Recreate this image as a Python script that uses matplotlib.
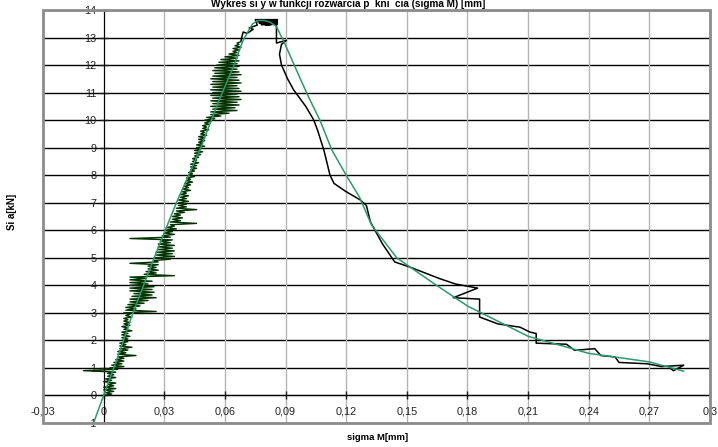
import matplotlib.pyplot as plt
from matplotlib.patches import Rectangle

plt.rcParams['font.family'] = ['Liberation Sans', 'DejaVu Sans']

# rising part of the measurement (dark green): at each force level the
# signal swings between a left and a right opening value
rise_y = [0.0, 0.1, 0.2, 0.3, 0.4, 0.5, 0.6, 0.7, 0.8, 0.9,
          1.0, 1.1, 1.2, 1.3, 1.4, 1.5, 1.6, 1.7, 1.8, 1.9,
          2.0, 2.1, 2.2, 2.3, 2.4, 2.5, 2.6, 2.7, 2.8, 2.9,
          3.0, 3.1, 3.2, 3.3, 3.4, 3.5, 3.6, 3.7, 3.8, 3.9,
          4.0, 4.1, 4.2, 4.3, 4.4, 4.5, 4.6, 4.7, 4.8, 4.9,
          5.0, 5.1, 5.2, 5.3, 5.4, 5.5, 5.6, 5.7, 5.8, 5.9,
          6.0, 6.1, 6.2, 6.3, 6.4, 6.5, 6.6, 6.7, 6.8, 6.9,
          7.0, 7.1, 7.2, 7.3, 7.4, 7.5, 7.6, 7.7, 7.8, 7.9,
          8.0, 8.1, 8.2, 8.3, 8.4, 8.5, 8.6, 8.7, 8.8, 8.9,
          9.0, 9.1, 9.2, 9.3, 9.4, 9.5, 9.6, 9.7, 9.8, 9.9,
          10.0, 10.1, 10.2, 10.3, 10.4, 10.5, 10.6, 10.7, 10.8, 10.9,
          11.0, 11.1, 11.2, 11.3, 11.4, 11.5, 11.6, 11.7, 11.8, 11.9,
          12.0, 12.1, 12.2, 12.3, 12.4, 12.5, 12.6, 12.7, 12.8]
rise_lo = [0.000, 0.001, 0.000, 0.000, 0.002, 0.000, 0.001, 0.002, 0.002, -0.010,
           0.003, 0.004, 0.005, 0.006, 0.007, 0.007, 0.007, 0.008, 0.008, 0.008,
           0.009, 0.009, 0.009, 0.009, 0.010, 0.009, 0.010, 0.010, 0.010, 0.011,
           0.010, 0.011, 0.011, 0.012, 0.013, 0.013, 0.014, 0.015, 0.013, 0.013,
           0.013, 0.013, 0.013, 0.013, 0.020, 0.021, 0.022, 0.022, 0.013, 0.025,
           0.025, 0.026, 0.026, 0.027, 0.027, 0.027, 0.028, 0.013, 0.029, 0.030,
           0.030, 0.031, 0.033, 0.033, 0.034, 0.034, 0.035, 0.036, 0.036, 0.037,
           0.037, 0.037, 0.038, 0.038, 0.039, 0.039, 0.040, 0.040, 0.041, 0.041,
           0.042, 0.042, 0.043, 0.043, 0.043, 0.044, 0.044, 0.045, 0.045, 0.045,
           0.046, 0.046, 0.047, 0.047, 0.047, 0.048, 0.048, 0.049, 0.049, 0.050,
           0.050, 0.051, 0.053, 0.053, 0.054, 0.053, 0.054, 0.053, 0.054, 0.053,
           0.054, 0.053, 0.054, 0.053, 0.054, 0.053, 0.054, 0.055, 0.054, 0.055,
           0.056, 0.057, 0.058, 0.060, 0.062, 0.064, 0.064, 0.065, 0.066]
rise_hi = [0.004, 0.005, 0.006, 0.005, 0.006, 0.004, 0.006, 0.005, 0.006, 0.007,
           0.010, 0.009, 0.010, 0.010, 0.016, 0.011, 0.012, 0.014, 0.011, 0.012,
           0.012, 0.013, 0.012, 0.014, 0.012, 0.013, 0.013, 0.012, 0.014, 0.013,
           0.026, 0.016, 0.018, 0.020, 0.022, 0.026, 0.024, 0.025, 0.024, 0.025,
           0.022, 0.024, 0.021, 0.035, 0.026, 0.027, 0.026, 0.027, 0.027, 0.033,
           0.035, 0.034, 0.035, 0.034, 0.035, 0.033, 0.034, 0.033, 0.035, 0.034,
           0.036, 0.035, 0.046, 0.038, 0.039, 0.038, 0.040, 0.046, 0.041, 0.041,
           0.042, 0.041, 0.042, 0.041, 0.043, 0.042, 0.043, 0.044, 0.043, 0.045,
           0.044, 0.045, 0.046, 0.046, 0.047, 0.046, 0.047, 0.048, 0.049, 0.048,
           0.050, 0.049, 0.050, 0.050, 0.051, 0.050, 0.052, 0.051, 0.052, 0.053,
           0.055, 0.058, 0.062, 0.066, 0.065, 0.067, 0.066, 0.068, 0.067, 0.066,
           0.068, 0.067, 0.066, 0.068, 0.067, 0.066, 0.068, 0.067, 0.066, 0.067,
           0.066, 0.067, 0.066, 0.067, 0.066, 0.067, 0.068, 0.067, 0.068]

# peak and falling part of the measurement (black)
fall_x = [0.068, 0.069, 0.071, 0.074, 0.072, 0.076, 0.075, 0.086, 0.076, 0.086,
          0.077, 0.086, 0.078, 0.086, 0.080, 0.0855, 0.0855, 0.0905, 0.088, 0.087,
          0.088, 0.091, 0.094, 0.100, 0.104, 0.106, 0.109, 0.112, 0.114, 0.120,
          0.127, 0.130, 0.132, 0.138, 0.144, 0.152, 0.166, 0.174, 0.185, 0.173,
          0.186, 0.186, 0.195, 0.206, 0.211, 0.214, 0.214, 0.229, 0.233, 0.243,
          0.246, 0.253, 0.255, 0.269, 0.276, 0.287, 0.282, 0.280]
fall_y = [12.9, 13.2, 13.15, 13.3, 13.35, 13.45, 13.65, 13.65, 13.58, 13.6,
          13.52, 13.55, 13.47, 13.5, 13.45, 13.5, 12.8, 12.9, 12.75, 12.4,
          12.0, 11.5, 11.1, 10.5, 10.0, 9.6, 8.9, 8.0, 7.7, 7.4,
          7.1, 6.9, 6.3, 5.5, 4.85, 4.65, 4.25, 4.05, 3.9, 3.55,
          3.5, 2.85, 2.6, 2.48, 2.3, 2.25, 1.9, 1.86, 1.64, 1.7,
          1.45, 1.4, 1.2, 1.15, 1.05, 1.1, 0.9, 1.0]

# trend curve (teal green)
fit_x = [-0.005, 0.0, 0.007, 0.014, 0.025, 0.036, 0.0475, 0.057, 0.064, 0.069,
         0.0737, 0.0765, 0.0796, 0.0825, 0.0855, 0.0895, 0.0955, 0.101, 0.107, 0.113,
         0.120, 0.1266, 0.1325, 0.145, 0.1647, 0.18, 0.21, 0.24, 0.27, 0.281, 0.287]
fit_y = [-1.0, 0.0, 1.4, 2.9, 5.0, 7.0, 8.9, 10.7, 11.9, 12.9,
         13.5, 13.62, 13.62, 13.55, 13.4, 12.8, 11.8, 10.9, 10.0, 8.9,
         8.0, 7.2, 6.2, 5.0, 4.0, 3.25, 2.15, 1.53, 1.22, 1.0, 0.88]

x_ticks = [-0.03, 0, 0.03, 0.06, 0.09, 0.12, 0.15, 0.18, 0.21, 0.24, 0.27, 0.3]
x_labels = ['-0,03', '0', '0,03', '0,06', '0,09', '0,12', '0,15', '0,18',
            '0,21', '0,24', '0,27', '0,3']
y_ticks = list(range(-1, 15))

# zig-zag path of the rising part: left value, then right value just above
rise_px = []
rise_py = []
for y, lo, hi in zip(rise_y, rise_lo, rise_hi):
    rise_px += [lo, hi]
    rise_py += [y, y + 0.05]

fig = plt.figure(figsize=(7.18, 4.47), dpi=100)
ax = fig.add_axes([43 / 718, 24 / 447, 667 / 718, 413 / 447])

ax.set_xlim(-0.03, 0.3)
ax.set_ylim(-1, 14)

# grid: black horizontals, grey verticals
for y in y_ticks:
    ax.axhline(y, color='black', lw=1.0, zorder=1)
for x in x_ticks:
    ax.axvline(x, color='#b4b4b4', lw=1.0, zorder=1)

ax.plot(rise_px, rise_py, color='#003300', lw=1.0, zorder=3)
ax.plot(fall_x, fall_y, color='black', lw=1.1, zorder=3)
ax.plot(fit_x, fit_y, color='#2a9a6c', lw=1.1, zorder=4)

# axes cross at zero
for side in ['top', 'right']:
    ax.spines[side].set_visible(False)
ax.spines['left'].set_position(('data', 0))
ax.spines['bottom'].set_position(('data', 0))
ax.spines['left'].set_color('black')
ax.spines['bottom'].set_color('black')
ax.spines['left'].set_zorder(2)
ax.spines['bottom'].set_zorder(2)

ax.set_xticks(x_ticks)
ax.set_xticklabels(x_labels)
ax.set_yticks(y_ticks)
ax.tick_params(axis='both', direction='inout', length=6, width=1,
               labelsize=7.8, colors='#222222', pad=2)
ax.tick_params(axis='x', pad=5)

# grey outer frame
ax.add_patch(Rectangle((0, 0), 1, 1, transform=ax.transAxes, fill=False,
                       edgecolor='#8c8c8c', lw=2, clip_on=False, zorder=5))

fig.text(348 / 718, 1 - 4 / 447, 'Wykres si y w funkcji rozwarcia p  kni  cia (sigma M) [mm]',
         ha='center', va='center', fontsize=7.2, fontweight='bold')
fig.text(378 / 718, 1 - 437 / 447, 'sigma M[mm]', ha='center', va='center',
         fontsize=6.8, fontweight='bold')
fig.text(12 / 718, 1 - 212 / 447, 'Si a[kN]', ha='center', va='center',
         fontsize=7, fontweight='bold', rotation=90)

plt.savefig('out.png', dpi=100)
